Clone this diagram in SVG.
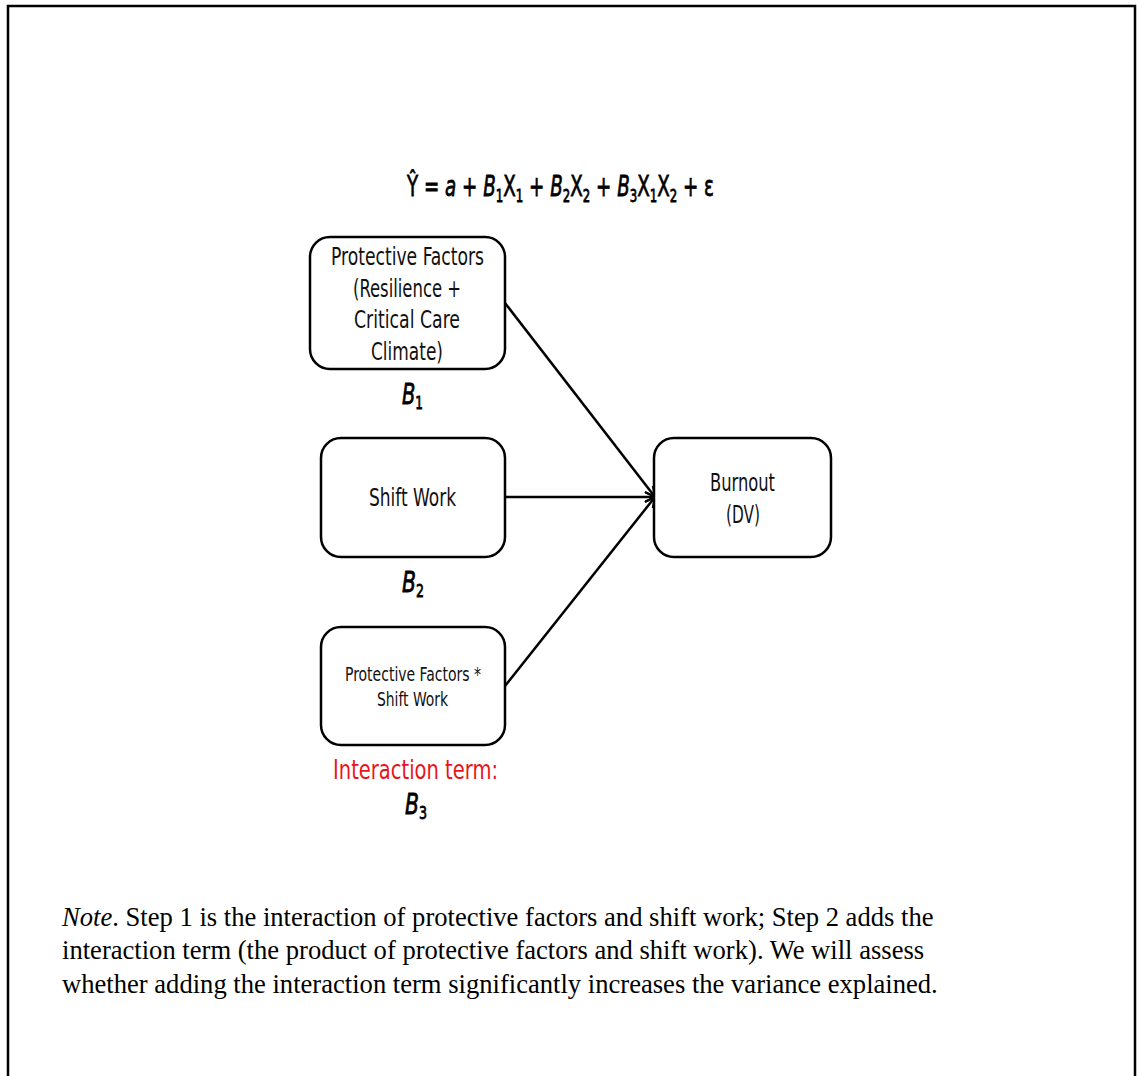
<svg xmlns="http://www.w3.org/2000/svg" width="1137" height="1076" viewBox="0 0 1137 1076">
  <style>
    .frame { fill: none; stroke: #000; stroke-width: 2.5; }
    .box { fill: #fff; stroke: #000; stroke-width: 2.5; }
    .lbl { font-family: "DejaVu Sans", "Liberation Sans", sans-serif; font-stretch: condensed; font-size: 25px; fill: #111; text-anchor: middle; }
    .small { font-size: 19px; }
    .eq { font-family: "DejaVu Sans", "Liberation Sans", sans-serif; font-size: 28px; fill: #000; stroke: #000; stroke-width: 0.8; }
    .beta { font-family: "DejaVu Sans", "Liberation Sans", sans-serif; font-size: 29px; font-style: italic; fill: #000; stroke: #000; stroke-width: 0.8; }
    .sub { font-style: normal; font-size: 18px; }
    .red { fill: #e8141b; font-size: 27px; }
    .note { font-family: "Liberation Serif", "Times New Roman", serif; font-size: 26.6px; fill: #000; }
    .edge { fill: none; stroke: #000; stroke-width: 2.5; marker-end: url(#arrow); }
  </style>
  <defs>
    <marker id="arrow" viewBox="0 0 12 12" refX="11" refY="6" markerWidth="12" markerHeight="12" markerUnits="userSpaceOnUse" orient="auto">
      <path d="M1,1 L11,6 L1,11" fill="none" stroke="#000" stroke-width="2"/>
    </marker>
  </defs>

  <rect width="1137" height="1076" fill="#fff"/>
  <!-- outer frame (open at the bottom) -->
  <path class="frame" d="M8,1076 L8,6 L1135,6 L1135,1076"/>

  <!-- regression equation -->
  <text x="407" y="196" class="eq" textLength="307" lengthAdjust="spacingAndGlyphs">Ŷ = <tspan font-style="italic">a</tspan> + <tspan font-style="italic">B</tspan><tspan class="sub" dy="6">1</tspan><tspan dy="-6">X</tspan><tspan class="sub" dy="6">1</tspan><tspan dy="-6"> + </tspan><tspan font-style="italic">B</tspan><tspan class="sub" dy="6">2</tspan><tspan dy="-6">X</tspan><tspan class="sub" dy="6">2</tspan><tspan dy="-6"> + </tspan><tspan font-style="italic">B</tspan><tspan class="sub" dy="6">3</tspan><tspan dy="-6">X</tspan><tspan class="sub" dy="6">1</tspan><tspan dy="-6">X</tspan><tspan class="sub" dy="6">2</tspan><tspan dy="-6"> + ε</tspan></text>

  <g id="connectors">
    <line class="edge" x1="505" y1="303" x2="655" y2="497"/>
    <line class="edge" x1="505" y1="497" x2="655" y2="497"/>
    <line class="edge" x1="505" y1="686" x2="655" y2="497"/>
  </g>

  <g id="protective-factors">
    <rect class="box" x="310" y="237" width="195" height="132" rx="20"/>
    <text class="lbl" x="407.5" y="265" textLength="153" lengthAdjust="spacingAndGlyphs">Protective Factors</text>
    <text class="lbl" x="407" y="297" textLength="108" lengthAdjust="spacingAndGlyphs">(Resilience +</text>
    <text class="lbl" x="407" y="328" textLength="106" lengthAdjust="spacingAndGlyphs">Critical Care</text>
    <text class="lbl" x="407" y="360" textLength="72" lengthAdjust="spacingAndGlyphs">Climate)</text>
    <text class="beta" x="402" y="404" textLength="21" lengthAdjust="spacingAndGlyphs">B<tspan class="sub" dy="5">1</tspan></text>
  </g>

  <g id="shift-work">
    <rect class="box" x="321" y="438" width="184" height="119" rx="20"/>
    <text class="lbl" x="412.5" y="506" textLength="87" lengthAdjust="spacingAndGlyphs">Shift Work</text>
    <text class="beta" x="402" y="592" textLength="22" lengthAdjust="spacingAndGlyphs">B<tspan class="sub" dy="5">2</tspan></text>
  </g>

  <g id="interaction">
    <rect class="box" x="321" y="627" width="184" height="118" rx="20"/>
    <text class="lbl small" x="413" y="681" textLength="136" lengthAdjust="spacingAndGlyphs">Protective Factors *</text>
    <text class="lbl small" x="412.5" y="706" textLength="71" lengthAdjust="spacingAndGlyphs">Shift Work</text>
    <text class="lbl red" x="415.5" y="779" textLength="165" lengthAdjust="spacingAndGlyphs">Interaction term:</text>
    <text class="beta" x="405" y="814" textLength="22" lengthAdjust="spacingAndGlyphs">B<tspan class="sub" dy="5">3</tspan></text>
  </g>

  <g id="burnout">
    <rect class="box" x="654" y="438" width="177" height="119" rx="20"/>
    <text class="lbl" x="742.5" y="491" textLength="65" lengthAdjust="spacingAndGlyphs">Burnout</text>
    <text class="lbl" x="743" y="523" textLength="34" lengthAdjust="spacingAndGlyphs">(DV)</text>
  </g>

  <g id="note">
    <text class="note" x="62" y="926"><tspan font-style="italic">Note</tspan>. Step 1 is the interaction of protective factors and shift work; Step 2 adds the</text>
    <text class="note" x="62" y="959">interaction term (the product of protective factors and shift work). We will assess</text>
    <text class="note" x="62" y="993">whether adding the interaction term significantly increases the variance explained.</text>
  </g>
</svg>
